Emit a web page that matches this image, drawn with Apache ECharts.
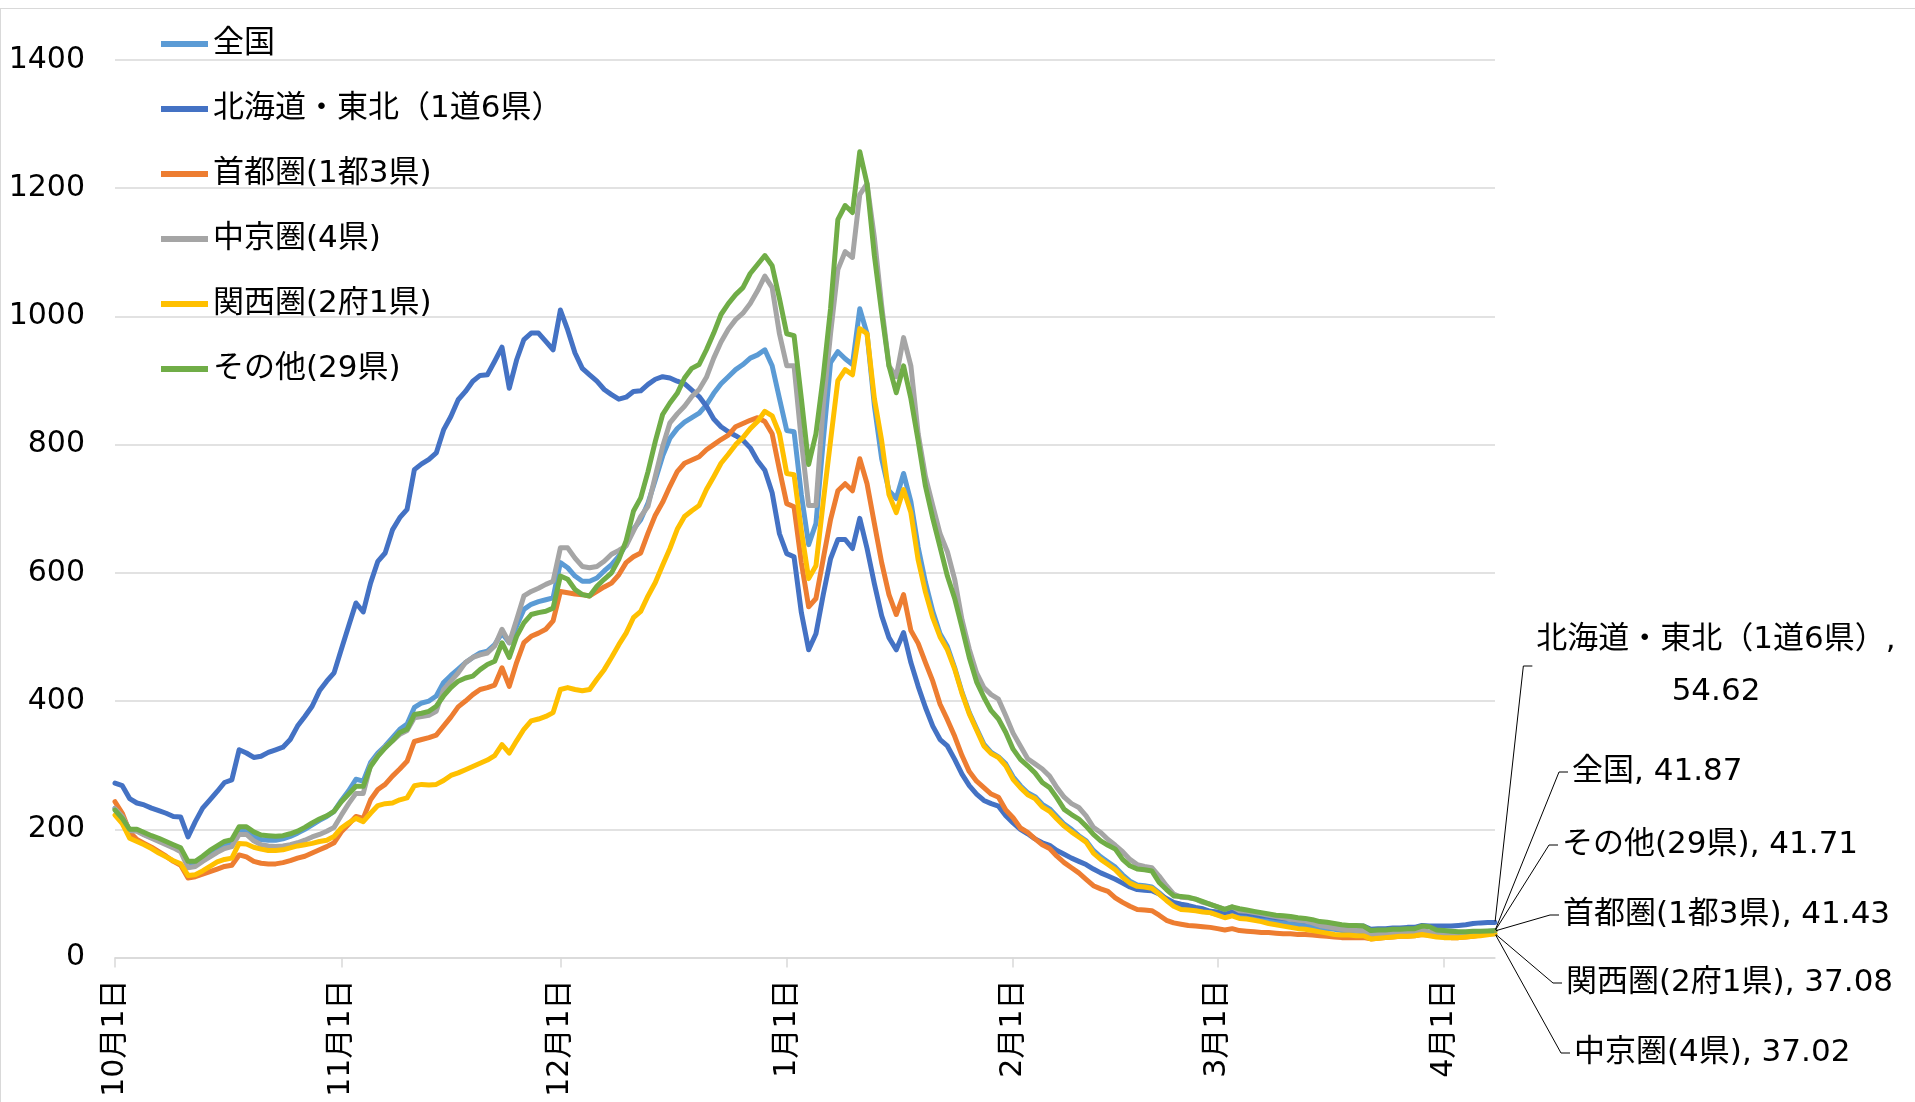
<!DOCTYPE html>
<html>
<head>
<meta charset="utf-8">
<script src="https://cdn.jsdelivr.net/npm/echarts@6/dist/echarts.min.js"></script>
<style>
html, body { margin: 0; padding: 0; background: #fff; }
#main { width: 1915px; height: 1102px; }
#frame { position: absolute; left: 0; top: 8px; width: 1915px; height: 1094px; box-sizing: border-box;
  border-top: 1px solid #d9d9d9; border-left: 1px solid #d9d9d9; pointer-events: none; }
</style>
</head>
<body>
<div id="main"></div>
<div id="frame"></div>
<script>
// daily values, 2022-10-01 .. 2023-04-08
const zenkoku = [
  233, 220, 198, 198, 192, 187, 183, 178, 173, 168, 145, 146, 154, 162, 169, 175, 178, 198, 199, 189, 184, 183, 183, 185, 189, 194, 200, 207, 214, 220, 228,
  245, 260, 278, 275, 304, 319, 330, 343, 356, 364, 390, 397, 400, 408, 429, 440, 450, 460, 468, 475, 478, 488, 506, 491, 517, 543, 551, 555, 558, 561,
  616, 608, 595, 587, 587, 592, 603, 613, 626, 644, 668, 683, 709, 745, 782, 810, 825, 835, 842, 849, 862, 880, 895, 906, 917, 925, 935, 940, 948, 923, 872,
  822, 820, 722, 644, 677, 806, 928, 945, 934, 925, 1012, 973, 861, 778, 728, 716, 755, 711, 640, 585, 540, 505, 485, 452, 414, 382, 357, 333, 320, 313, 302,
  282, 268, 257, 251, 239, 232, 220, 208, 200, 190, 182, 167, 157, 149, 141, 129, 119, 113, 112, 110, 101, 91, 83, 79, 77, 75, 72, 70,
  67, 64, 67, 63, 62, 60, 58, 57, 55, 54, 52, 51, 50, 48, 46, 45, 44, 42, 41, 41, 40, 35, 36, 37, 37, 38, 38, 38, 41, 39, 36,
  36, 36, 36, 37, 38, 39, 40.5, 41.87
];
const hokkaido = [
  272, 268, 248, 241, 238, 233, 229, 225, 220, 219, 188, 212, 233, 246, 259, 273, 277, 324, 319, 312, 314, 320, 324, 328, 340, 361, 376, 392, 416, 431, 444,
  481, 517, 553, 539, 584, 618, 631, 667, 686, 699, 761, 770, 777, 787, 823, 844, 870, 883, 899, 908, 909, 930, 952, 888, 932, 964, 974, 974, 961, 948,
  1010, 979, 943, 919, 909, 899, 886, 878, 871, 874, 883, 884, 894, 902, 906, 904, 899, 895, 885, 875, 860, 840, 828, 820, 814, 807, 795, 775, 760, 725, 661,
  630, 625, 538, 480, 505, 566, 622, 652, 652, 638, 685, 638, 583, 533, 499, 480, 507, 460, 423, 390, 361, 340, 330, 309, 286, 268, 255, 245, 240, 236, 221,
  210, 200, 193, 185, 179, 175, 167, 161, 155, 150, 145, 138, 132, 127, 122, 116, 110, 106, 105, 104, 99, 92, 86, 83, 81, 78, 76, 72,
  71, 70, 73, 70, 69, 67, 65, 64, 62, 61, 60, 58, 57, 55, 53, 52, 51, 50, 50, 49, 49, 44, 45, 45, 46, 46, 47, 47, 50, 49, 49,
  49, 49, 50, 51, 53, 54, 54.5, 54.62
];
const shutoken = [
  243, 225, 196, 184, 178, 172, 165, 158, 150, 144, 124, 126, 130, 134, 138, 142, 144, 160, 157, 150, 147, 146, 146, 148, 151, 155, 158, 163, 168, 173, 179,
  196, 208, 220, 217, 246, 262, 270, 283, 294, 306, 337, 340, 343, 347, 361, 375, 391, 400, 410, 418, 421, 425, 452, 423, 460, 491, 501, 506, 512, 525,
  571, 569, 567, 566, 564, 571, 578, 584, 597, 616, 625, 631, 662, 690, 710, 735, 758, 771, 776, 781, 792, 800, 808, 815, 828, 833, 838, 842, 836, 817, 761,
  708, 703, 616, 547, 560, 622, 683, 728, 739, 728, 778, 739, 677, 616, 566, 535, 566, 510, 490, 460, 431, 395, 371, 345, 315, 290, 275, 265, 255, 250, 230,
  218, 202, 195, 185, 176, 170, 158, 148, 140, 132, 122, 112, 107, 103, 93, 86, 80, 75, 74, 73, 66, 58, 54, 52, 50, 49, 48, 47,
  45, 43, 45, 42, 41, 40, 39, 39, 38, 37, 37, 36, 36, 35, 34, 33, 32, 31, 31, 31, 31, 29, 30, 31, 32, 33, 33, 34, 36, 35, 33,
  32, 31, 31, 32, 33, 35, 38, 41.43
];
const chukyo = [
  232, 220, 198, 197, 191, 186, 181, 176, 171, 165, 140, 142, 150, 157, 164, 170, 173, 192, 192, 182, 176, 174, 173, 174, 176, 179, 183, 188, 192, 197, 203,
  222, 240, 256, 256, 300, 315, 328, 338, 348, 354, 374, 376, 378, 384, 418, 431, 444, 460, 468, 472, 475, 486, 512, 491, 527, 564, 571, 576, 582, 587,
  639, 639, 623, 610, 608, 610, 618, 629, 635, 642, 665, 688, 704, 751, 797, 834, 848, 860, 875, 886, 905, 935, 960, 980, 995, 1005, 1020, 1040, 1063, 1045, 973,
  923, 923, 806, 705, 705, 861, 973, 1073, 1101, 1092, 1190, 1207, 1123, 1017, 923, 906, 967, 923, 817, 750, 705, 661, 633, 590, 527, 481, 444, 421, 410, 403, 377,
  350, 330, 310, 302, 294, 283, 265, 250, 240, 234, 221, 203, 195, 184, 175, 165, 153, 145, 142, 140, 127, 112, 99, 94, 93, 91, 86, 83,
  79, 75, 79, 73, 72, 70, 68, 66, 64, 62, 60, 58, 57, 54, 50, 48, 46, 44, 43, 42, 42, 36, 37, 38, 39, 39, 39, 39, 42, 40, 36,
  35, 35, 35, 35, 35, 36, 36.5, 37.02
];
const kansai = [
  222, 209, 186, 181, 176, 170, 163, 157, 151, 146, 128, 129, 135, 142, 149, 153, 155, 178, 177, 172, 169, 167, 167, 168, 171, 174, 176, 178, 181, 183, 189,
  202, 210, 217, 212, 225, 237, 240, 241, 246, 249, 268, 270, 269, 270, 276, 284, 288, 293, 298, 303, 308, 315, 332, 319, 338, 356, 369, 372, 376, 382,
  418, 421, 418, 416, 418, 434, 449, 468, 488, 506, 530, 540, 564, 585, 612, 638, 668, 688, 697, 705, 730, 750, 771, 785, 800, 811, 825, 836, 852, 845, 817,
  755, 753, 666, 591, 611, 711, 806, 900, 917, 909, 981, 973, 872, 806, 722, 694, 730, 694, 620, 570, 530, 500, 480, 450, 412, 380, 355, 330, 318, 312, 299,
  278, 265, 254, 248, 235, 228, 216, 205, 196, 188, 180, 163, 153, 145, 137, 125, 116, 111, 110, 108, 99, 89, 80, 75, 74, 73, 71, 70,
  66, 62, 65, 61, 60, 58, 56, 53, 51, 49, 47, 45, 44, 42, 40, 38, 36, 35, 35, 34, 34, 29, 30, 31, 32, 33, 33, 34, 36, 34, 32,
  31, 31, 31, 32, 33, 34, 35.5, 37.08
];
const sonota = [
  230, 217, 200, 200, 195, 190, 186, 181, 176, 171, 150, 150, 158, 167, 174, 181, 184, 204, 204, 196, 191, 190, 189, 190, 193, 197, 203, 210, 216, 221, 228,
  243, 255, 267, 267, 298, 314, 327, 338, 351, 356, 379, 381, 384, 392, 408, 421, 431, 436, 439, 449, 457, 462, 491, 468, 501, 522, 535, 538, 540, 545,
  595, 590, 574, 566, 564, 579, 590, 600, 621, 650, 696, 717, 758, 805, 847, 865, 880, 904, 919, 925, 948, 974, 1003, 1020, 1034, 1045, 1067, 1081, 1095, 1079, 1028,
  973, 970, 872, 769, 817, 906, 1012, 1151, 1173, 1162, 1257, 1207, 1095, 1006, 923, 881, 923, 872, 806, 735, 685, 640, 595, 560, 515, 468, 430, 406, 385, 372, 351,
  325, 309, 299, 288, 273, 265, 249, 231, 223, 216, 205, 192, 182, 175, 169, 153, 143, 138, 137, 135, 117, 106, 96, 95, 94, 91, 87, 83,
  79, 75, 79, 76, 74, 72, 70, 68, 66, 65, 64, 62, 61, 59, 56, 55, 53, 51, 50, 50, 49, 42, 43, 43, 44, 44, 45, 45, 49, 48, 43,
  42, 41, 40, 40, 41, 41, 41.5, 41.71
];

const names = ['全国', '北海道・東北（1道6県）', '首都圏(1都3県)', '中京圏(4県)', '関西圏(2府1県)', 'その他(29県)'];
const values = [zenkoku, hokkaido, shutoken, chukyo, kansai, sonota];
const colors = ['#5B9BD5', '#4472C4', '#ED7D31', '#A5A5A5', '#FFC000', '#70AD47'];

// category labels: one per day starting 10月1日
const dates = zenkoku.map(function (_, i) {
  const d = new Date(2022, 9, 1 + i);
  return (d.getMonth() + 1) + '月' + d.getDate() + '日';
});

const FONT = "'DejaVu Sans', 'Noto Sans CJK JP', sans-serif";

// where the end-of-line labels sit (left edge / centre y)
const labelPos = [
  { x: 1568, y: 772, align: 'left' },
  { x: 1716, y: 666, align: 'center' },
  { x: 1559, y: 915, align: 'left' },
  { x: 1570, y: 1053, align: 'left' },
  { x: 1562, y: 983, align: 'left' },
  { x: 1558, y: 845, align: 'left' }
];

function isMonthStart (idx, value) {
  return /月1日$/.test(value);
}

const series = names.map(function (name, k) {
  const vals = values[k];
  const last = vals.length - 1;
  return {
    name: name,
    type: 'line',
    color: colors[k],
    showSymbol: true,
    showAllSymbol: true,
    symbol: 'none',
    lineStyle: { width: 5, color: colors[k], cap: 'round', join: 'round' },
    data: vals.map(function (v, i) {
      if (i !== last) return v;
      return { value: v, symbol: 'circle', symbolSize: 2, label: { show: true } };
    }),
    label: {
      show: false,
      formatter: k === 1 ? '{a},\n{c}' : '{a}, {c}',
      color: '#000',
      fontSize: 31,
      lineHeight: 52,
      fontFamily: FONT,
      padding: [0, 4]
    },
    labelLine: { show: true, length2: 9, smooth: false, lineStyle: { color: '#000', width: 1 } },
    labelLayout: { x: labelPos[k].x, y: labelPos[k].y, align: labelPos[k].align, verticalAlign: 'middle' },
    emphasis: { disabled: true }
  };
});

const myChart = echarts.init(document.getElementById('main'));
myChart.setOption({
  animation: false,
  backgroundColor: '#fff',
  grid: { left: 115, right: 420, top: 60, bottom: 144.5, containLabel: false, outerBoundsMode: 'none' },
  legend: {
    orient: 'vertical',
    left: 156,
    top: 23.5,
    icon: 'rect',
    itemWidth: 47,
    itemHeight: 6,
    itemGap: 34,
    data: names,
    textStyle: { fontSize: 31, lineHeight: 30, color: '#000', fontFamily: FONT }
  },
  xAxis: {
    type: 'category',
    boundaryGap: false,
    data: dates,
    axisLine: { lineStyle: { color: '#d9d9d9', width: 1.5 } },
    axisTick: { show: true, interval: isMonthStart, length: 10, lineStyle: { color: '#d9d9d9', width: 1.5 } },
    axisLabel: { interval: isMonthStart, rotate: 90, margin: 22, fontSize: 30, color: '#000', fontFamily: FONT },
    splitLine: { show: false }
  },
  yAxis: {
    type: 'value',
    min: 0,
    max: 1400,
    interval: 200,
    axisLine: { show: false },
    axisTick: { show: false },
    axisLabel: {
      margin: 30, fontSize: 30, color: '#000', fontFamily: FONT,
      formatter: function (v) { return String(v); }
    },
    splitLine: { lineStyle: { color: '#d9d9d9', width: 1.5 } }
  },
  series: series
});
</script>
</body>
</html>
